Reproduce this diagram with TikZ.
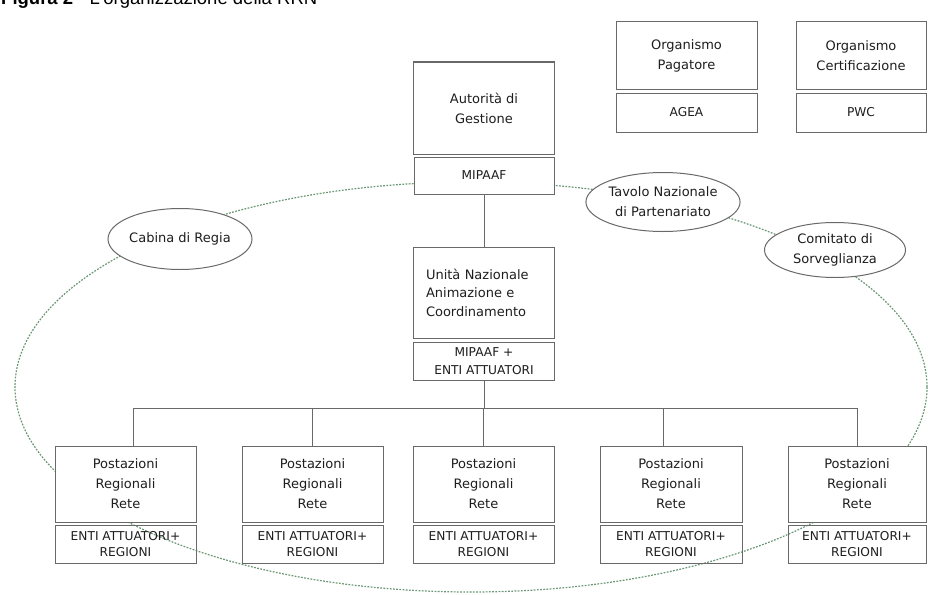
\documentclass[tikz,border=0pt]{standalone}
\usepackage{fontspec}
\setmainfont{DejaVu Sans}
\newfontfamily\titlefont{Liberation Sans}
\usetikzlibrary{shapes.geometric}
\definecolor{linegray}{RGB}{105,105,105}
\definecolor{txtgray}{RGB}{30,30,30}
\definecolor{dotgreen}{RGB}{105,150,115}
\newcommand{\capsz}{\fontsize{12.2}{16}\selectfont}
\begin{document}
\begin{tikzpicture}[x=1pt,y=-1pt,
  upbox/.style={draw=linegray, fill=white, line width=1pt, align=center, inner sep=0pt,
    minimum width=141pt, font=\fontsize{13}{20}\selectfont, text=txtgray},
  lowbox/.style={draw=linegray, line width=1pt, align=center, inner sep=0pt,
    minimum width=141pt, font=\fontsize{12.2}{16}\selectfont, text=txtgray},
  oval/.style={draw=linegray, fill=white, line width=1pt, ellipse, align=center, inner sep=0pt,
    font=\fontsize{13}{20}\selectfont, text=txtgray},
  conn/.style={draw=linegray, line width=1pt},
  dotline/.style={draw=dotgreen, line width=1.2pt, dash pattern=on 1.8pt off 1.4pt}
]
\useasboundingbox (0,0) rectangle (928,594);

% title (partly cut at top, as in the source)
\node[anchor=base west, inner sep=0pt, font=\titlefont\fontsize{18.5}{20}\selectfont, text=black] (title) at (1,5)
  {\textbf{Figura 2} - L'organizzazione della RRN};

% big dotted ring
\draw[dotline] (471,387) ellipse [x radius=456, y radius=205];

% Autorita di Gestione
\node[upbox, minimum height=92pt] (ag) at (484,108) {Autorità di\\Gestione};
\node[upbox, minimum width=140pt, minimum height=37pt] (agl) at (484,175.5) {\capsz MIPAAF};

% Organismo Pagatore
\node[upbox, minimum height=67pt] (op) at (686.5,55.5) {Organismo\\Pagatore};
\node[upbox, minimum height=39pt] (opl) at (686.5,112.5) {\capsz AGEA};

% Organismo Certificazione
\node[upbox, minimum width=130pt, minimum height=67pt] (oc) at (861,55.5) {Organismo\\Certificazione};
\node[upbox, minimum width=130pt, minimum height=39pt] (ocl) at (861,112.5) {\capsz PWC};

% Unita Nazionale
\node[upbox, minimum height=91pt, text width=116pt, align=left, inner xsep=12pt, font=\fontsize{13}{18.5}\selectfont] (un) at (484,292.5)
  {Unità Nazionale\\Animazione e\\Coordinamento};
\node[upbox, minimum height=38pt, font=\fontsize{12.2}{18}\selectfont] (unl) at (484,361) {MIPAAF +\\ENTI ATTUATORI};

% ellipses
\node[oval, minimum width=144pt, minimum height=61pt] (cab) at (180,239) {Cabina di Regia};
\node[oval, minimum width=141pt, minimum height=59pt] (tav) at (663,202) {Tavolo Nazionale\\di Partenariato};
\node[oval, minimum width=141pt, minimum height=55pt] (com) at (835,250) {Comitato di\\Sorveglianza};

% Postazioni regionali
\foreach \i/\cx/\w in {1/125.5/141, 2/312.5/141, 3/483.5/141, 4/671/142, 5/857/138}{
  \node[upbox, minimum width=\w pt, minimum height=76pt] (p\i) at (\cx,484) {Postazioni\\Regionali\\Rete};
  \node[lowbox, minimum width=\w pt, minimum height=38pt] (pl\i) at (\cx,544) {ENTI ATTUATORI+\\REGIONI};
}

% connectors
\coordinate (bus) at (484,408);
\draw[conn] (agl.south) -- (un.north);
\draw[conn] (unl.south) -- (bus);
\draw[conn] ([xshift=7.5pt]p1.north) |- (bus);
\draw[conn] (p5.north) |- (bus);
\draw[conn] (p2.north) -- (p2.north |- bus);
\draw[conn] (p3.north) -- (p3.north |- bus);
\draw[conn] ([xshift=-8pt]p4.north) -- ([xshift=-8pt]p4.north |- bus);
\end{tikzpicture}
\end{document}
